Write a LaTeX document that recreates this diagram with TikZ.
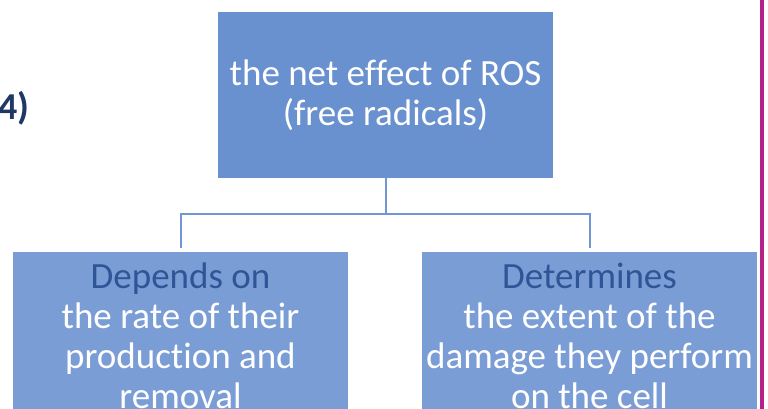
\documentclass[tikz,border=0pt]{standalone}
\usepackage{fontspec}
\setmainfont{Carlito}[Ligatures=NoCommon]
\usetikzlibrary{calc}
\definecolor{topblue}{HTML}{6990CF}
\definecolor{boxblue}{HTML}{7B9DD6}
\definecolor{linkblue}{HTML}{7096D6}
\definecolor{darkblue}{HTML}{2F5597}
\definecolor{navy}{HTML}{203864}
\definecolor{edgepink}{HTML}{B5208A}
\tikzset{
  box/.style={fill=boxblue, text=white, minimum width=335pt, minimum height=168pt,
    align=center, inner sep=0pt, font=\fontsize{37}{40}\selectfont},
  link/.style={draw=linkblue, line width=2pt}
}
\begin{document}
\begin{tikzpicture}[x=1pt,y=-1pt]
\useasboundingbox (0,0) rectangle (768,409);
\clip (0,0) rectangle (768,409);

\node[box, fill=topblue, minimum height=166pt] (ros) at (385.5,95) {the net effect of ROS\\(free radicals)};
\node[box, anchor=north] (dep) at (180.5,252) {\textcolor{darkblue}{Depends on}\\the rate of their\\production and\\removal};
\node[box, anchor=north] (det) at (589.5,252) {\textcolor{darkblue}{Determines}\\the extent of the\\damage they perform\\on the cell};

\coordinate (fork) at ($(ros.south)+(0,36)$);
\draw[link] (ros.south) -- (fork);
\draw[link] (fork) -| ([yshift=4pt]dep.north);
\draw[link] (fork) -| ([yshift=4pt]det.north);

\node[font=\bfseries\fontsize{38}{40}\selectfont, text=navy, anchor=base east, inner sep=0pt] (num) at (30,120) {4)};
\draw[edgepink, line width=4pt] (762,0) -- (762,409);
\end{tikzpicture}
\end{document}
